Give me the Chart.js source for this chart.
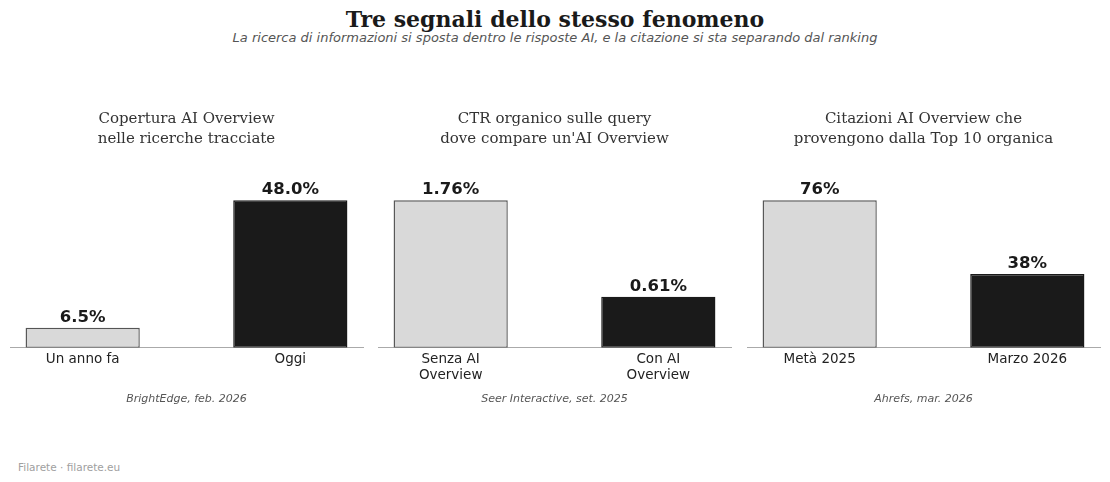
<!DOCTYPE html>
<html lang="it">
<head>
  <meta charset="UTF-8" />
  <title>Tre segnali dello stesso fenomeno</title>
  <script src="https://cdn.jsdelivr.net/npm/chart.js"></script>
  <style>
    body {
      margin: 0;
      width: 1110px;
      height: 482px;
      background: #fff;
      position: relative;
      font-family: "DejaVu Sans", sans-serif;
      overflow: hidden;
    }
    .title {
      position: absolute;
      top: 6px;
      left: 0;
      width: 1110px;
      text-align: center;
      font-family: "DejaVu Serif", serif;
      font-weight: bold;
      font-size: 22px;
      line-height: 26px;
      color: #1a1a1a;
    }
    .subtitle {
      position: absolute;
      top: 30px;
      left: 0;
      width: 1110px;
      text-align: center;
      font-style: italic;
      font-size: 13px;
      line-height: 16px;
      color: #555;
    }
    .panel {
      position: absolute;
      top: 100px;
      width: 373px;
      height: 320px;
    }
    .footer {
      position: absolute;
      left: 18px;
      top: 460px;
      font-size: 10.5px;
      line-height: 14px;
      color: #a0a0a0;
    }
  </style>
</head>
<body>
  <div class="title">Tre segnali dello stesso fenomeno</div>
  <div class="subtitle">La ricerca di informazioni si sposta dentro le risposte AI, e la citazione si sta separando dal ranking</div>

  <div class="panel" style="left:0px"><canvas id="c0"></canvas></div>
  <div class="panel" style="left:368px"><canvas id="c1"></canvas></div>
  <div class="panel" style="left:737px"><canvas id="c2"></canvas></div>

  <div class="footer">Filarete · filarete.eu</div>

  <script>
    // data
    const panelTitles = [
      ['Copertura AI Overview', 'nelle ricerche tracciate'],
      ['CTR organico sulle query', "dove compare un'AI Overview"],
      ['Citazioni AI Overview che', 'provengono dalla Top 10 organica']
    ];
    const coverageLabels = ['Un anno fa', 'Oggi'];
    const coverageValues = [6.5, 48.0];
    const ctrLabels = [['Senza AI', 'Overview'], ['Con AI', 'Overview']];
    const ctrValues = [1.76, 0.61];
    const citationLabels = ['Metà 2025', 'Marzo 2026'];
    const citationValues = [76, 38];
    const sources = ['BrightEdge, feb. 2026', 'Seer Interactive, set. 2025', 'Ahrefs, mar. 2026'];
    const decimals = [1, 2, 0];

    const panels = [
      { labels: coverageLabels, values: coverageValues },
      { labels: ctrLabels, values: ctrValues },
      { labels: citationLabels, values: citationValues }
    ];

    const barColors = ['#d9d9d9', '#1a1a1a'];
    const edgeColors = ['#555555', '#1a1a1a'];

    const valueLabels = {
      id: 'valueLabels',
      afterDatasetsDraw(chart, args, opts) {
        const ctx = chart.ctx;
        const meta = chart.getDatasetMeta(0);
        const ds = chart.data.datasets[0];
        ctx.save();
        ctx.font = 'bold 16.5px "DejaVu Sans"';
        ctx.fillStyle = '#1a1a1a';
        ctx.textAlign = 'center';
        ctx.textBaseline = 'alphabetic';
        meta.data.forEach((bar, i) => {
          const v = ds.data[i].y;
          ctx.fillText(v.toFixed(opts.decimals) + '%', bar.x, bar.y - 6);
        });
        ctx.restore();
      }
    };

    panels.forEach((p, idx) => {
      const maxVal = Math.max(...p.values);
      new Chart(document.getElementById('c' + idx), {
        type: 'bar',
        data: {
          datasets: [{
            data: p.values.map((v, i) => ({ x: i, y: v })),
            backgroundColor: barColors,
            borderColor: edgeColors,
            borderWidth: 1.4,
            borderSkipped: false,
            barPercentage: 0.55,
            categoryPercentage: 1.0
          }]
        },
        options: {
          responsive: true,
          maintainAspectRatio: false,
          animation: false,
          layout: { padding: { left: 10, right: 10, top: 0, bottom: 11 } },
          plugins: {
            legend: { display: false },
            tooltip: { enabled: false },
            title: {
              display: true,
              text: panelTitles[idx],
              color: '#333',
              font: { family: 'DejaVu Serif', size: 15, weight: 'normal', lineHeight: 1.35 },
              padding: { top: 9, bottom: 6.5 }
            },
            subtitle: {
              display: true,
              position: 'bottom',
              text: sources[idx],
              color: '#555',
              font: { family: 'DejaVu Sans', size: 11, style: 'italic', lineHeight: 1.2 },
              padding: { top: 5, bottom: 3 }
            },
            valueLabels: { decimals: decimals[idx] }
          },
          scales: {
            x: {
              type: 'linear',
              offset: false,
              min: -0.35,
              max: 1.35,
              grid: { display: false, drawTicks: false },
              border: { display: true, color: '#aaa', width: 1 },
              afterBuildTicks: (s) => { s.ticks = [{ value: 0 }, { value: 1 }]; },
              afterFit: (s) => { s.height = 40; },
              ticks: {
                autoSkip: false,
                maxRotation: 0,
                padding: 4,
                color: '#222',
                font: { family: 'DejaVu Sans', size: 13.5, lineHeight: 1.18 },
                callback: (v) => p.labels[v]
              }
            },
            y: {
              display: false,
              min: 0,
              max: maxVal * 1.3
            }
          }
        },
        plugins: [valueLabels]
      });
    });
  </script>
</body>
</html>
